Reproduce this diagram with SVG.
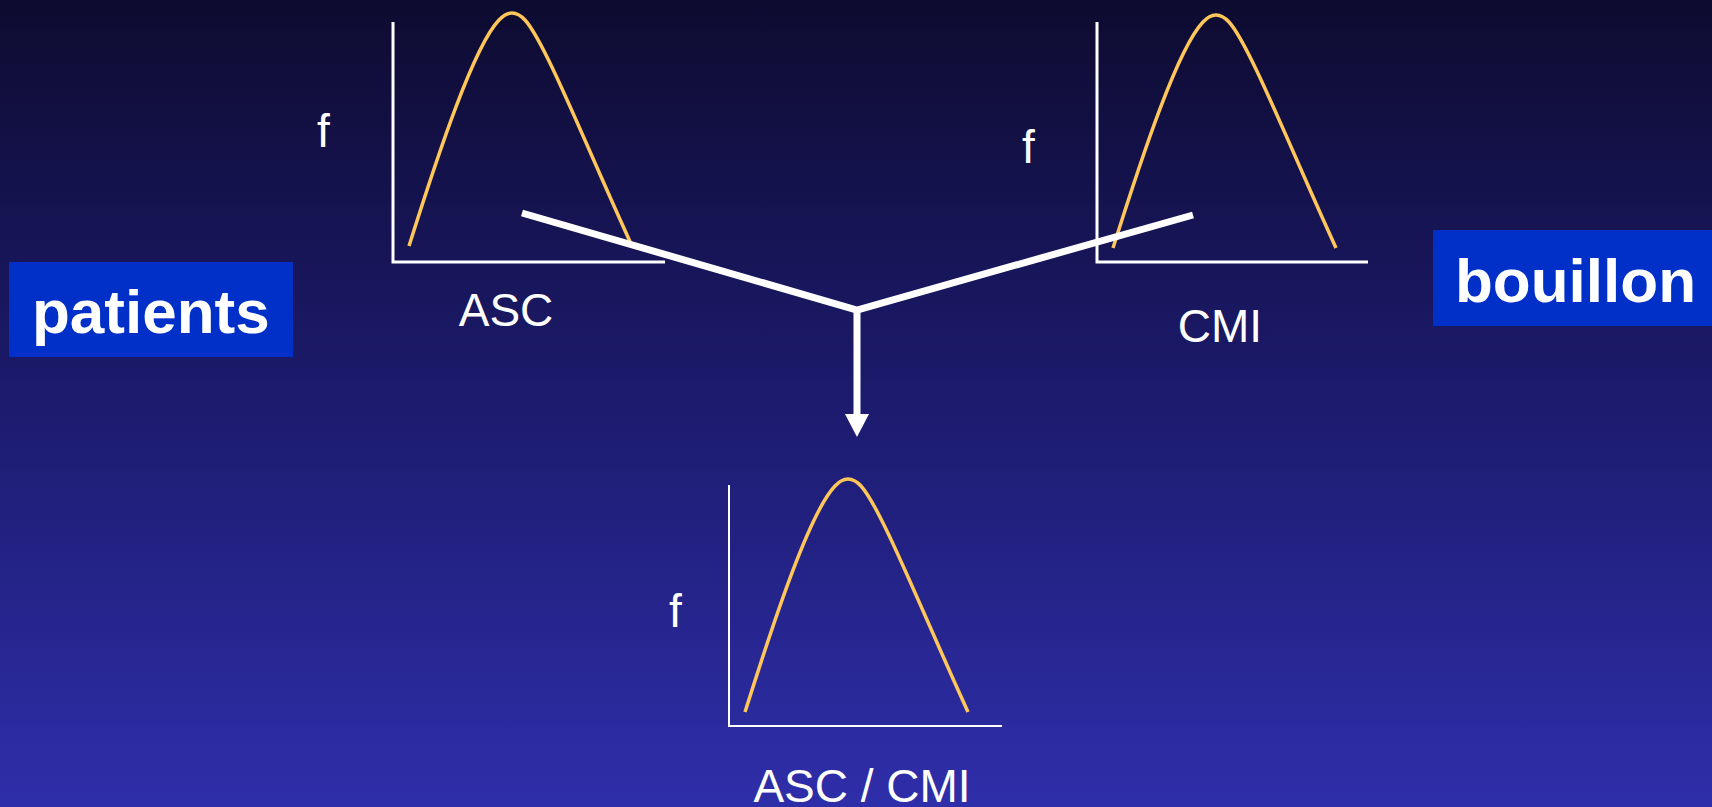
<svg xmlns="http://www.w3.org/2000/svg" width="1712" height="807" viewBox="0 0 1712 807">
<defs>
<linearGradient id="bg" x1="0" y1="0" x2="0" y2="1">
<stop offset="0" stop-color="#0e0b30"/>
<stop offset="0.5" stop-color="#1c1b6e"/>
<stop offset="1" stop-color="#2f2eaa"/>
</linearGradient>
<path id="bell" d="M0,0 C30,-95 65,-200 90,-226 Q103,-240 116,-226 C136,-204 175,-105 223,0"/>
<style>
.axis{stroke:#ffffff;stroke-width:3;fill:none}
.axis2{stroke:#ffffff;stroke-width:2;fill:none}
.curve{stroke:#ffc65a;stroke-width:3.5;fill:none;stroke-linecap:butt}
.lbl{font-family:"Liberation Sans",Arial,sans-serif;font-size:46px;fill:#ffffff}
.box{fill:#0030c8}
.boxt{font-family:"Liberation Sans",Arial,sans-serif;font-size:62px;font-weight:bold;fill:#ffffff}
.conn{stroke:#ffffff;stroke-width:7;fill:none;stroke-linejoin:miter}
</style>
</defs>
<rect x="0" y="0" width="1712" height="807" fill="url(#bg)"/>

<g id="chart-asc">
<polyline class="axis" points="393,22 393,262 665,262"/>
<use href="#bell" class="curve" transform="translate(409,246)"/>
<text class="lbl" x="317" y="147">f</text>
<text class="lbl" x="506" y="326" text-anchor="middle">ASC</text>
</g>

<g id="chart-cmi">
<polyline class="axis" points="1097,22 1097,262 1368,262"/>
<use href="#bell" class="curve" transform="translate(1113,248)"/>
<text class="lbl" x="1022" y="163">f</text>
<text class="lbl" x="1220" y="342" text-anchor="middle">CMI</text>
</g>

<g id="chart-ratio">
<polyline class="axis2" points="729,485 729,726 1002,726"/>
<use href="#bell" class="curve" transform="translate(745,712)"/>
<text class="lbl" x="669" y="627">f</text>
<text class="lbl" x="862" y="802" text-anchor="middle">ASC / CMI</text>
</g>

<g id="patients">
<rect class="box" x="9" y="262" width="284" height="95"/>
<text class="boxt" x="32" y="333">patients</text>
</g>

<g id="bouillon">
<rect class="box" x="1433" y="230" width="279" height="96"/>
<text class="boxt" x="1455" y="302">bouillon</text>
</g>

<g id="connectors">
<polyline class="conn" points="522,213 857,310 1193,215"/>
<line class="conn" x1="857" y1="310" x2="857" y2="415"/>
<polygon points="845,414 869,414 857,437" fill="#ffffff"/>
</g>
</svg>
